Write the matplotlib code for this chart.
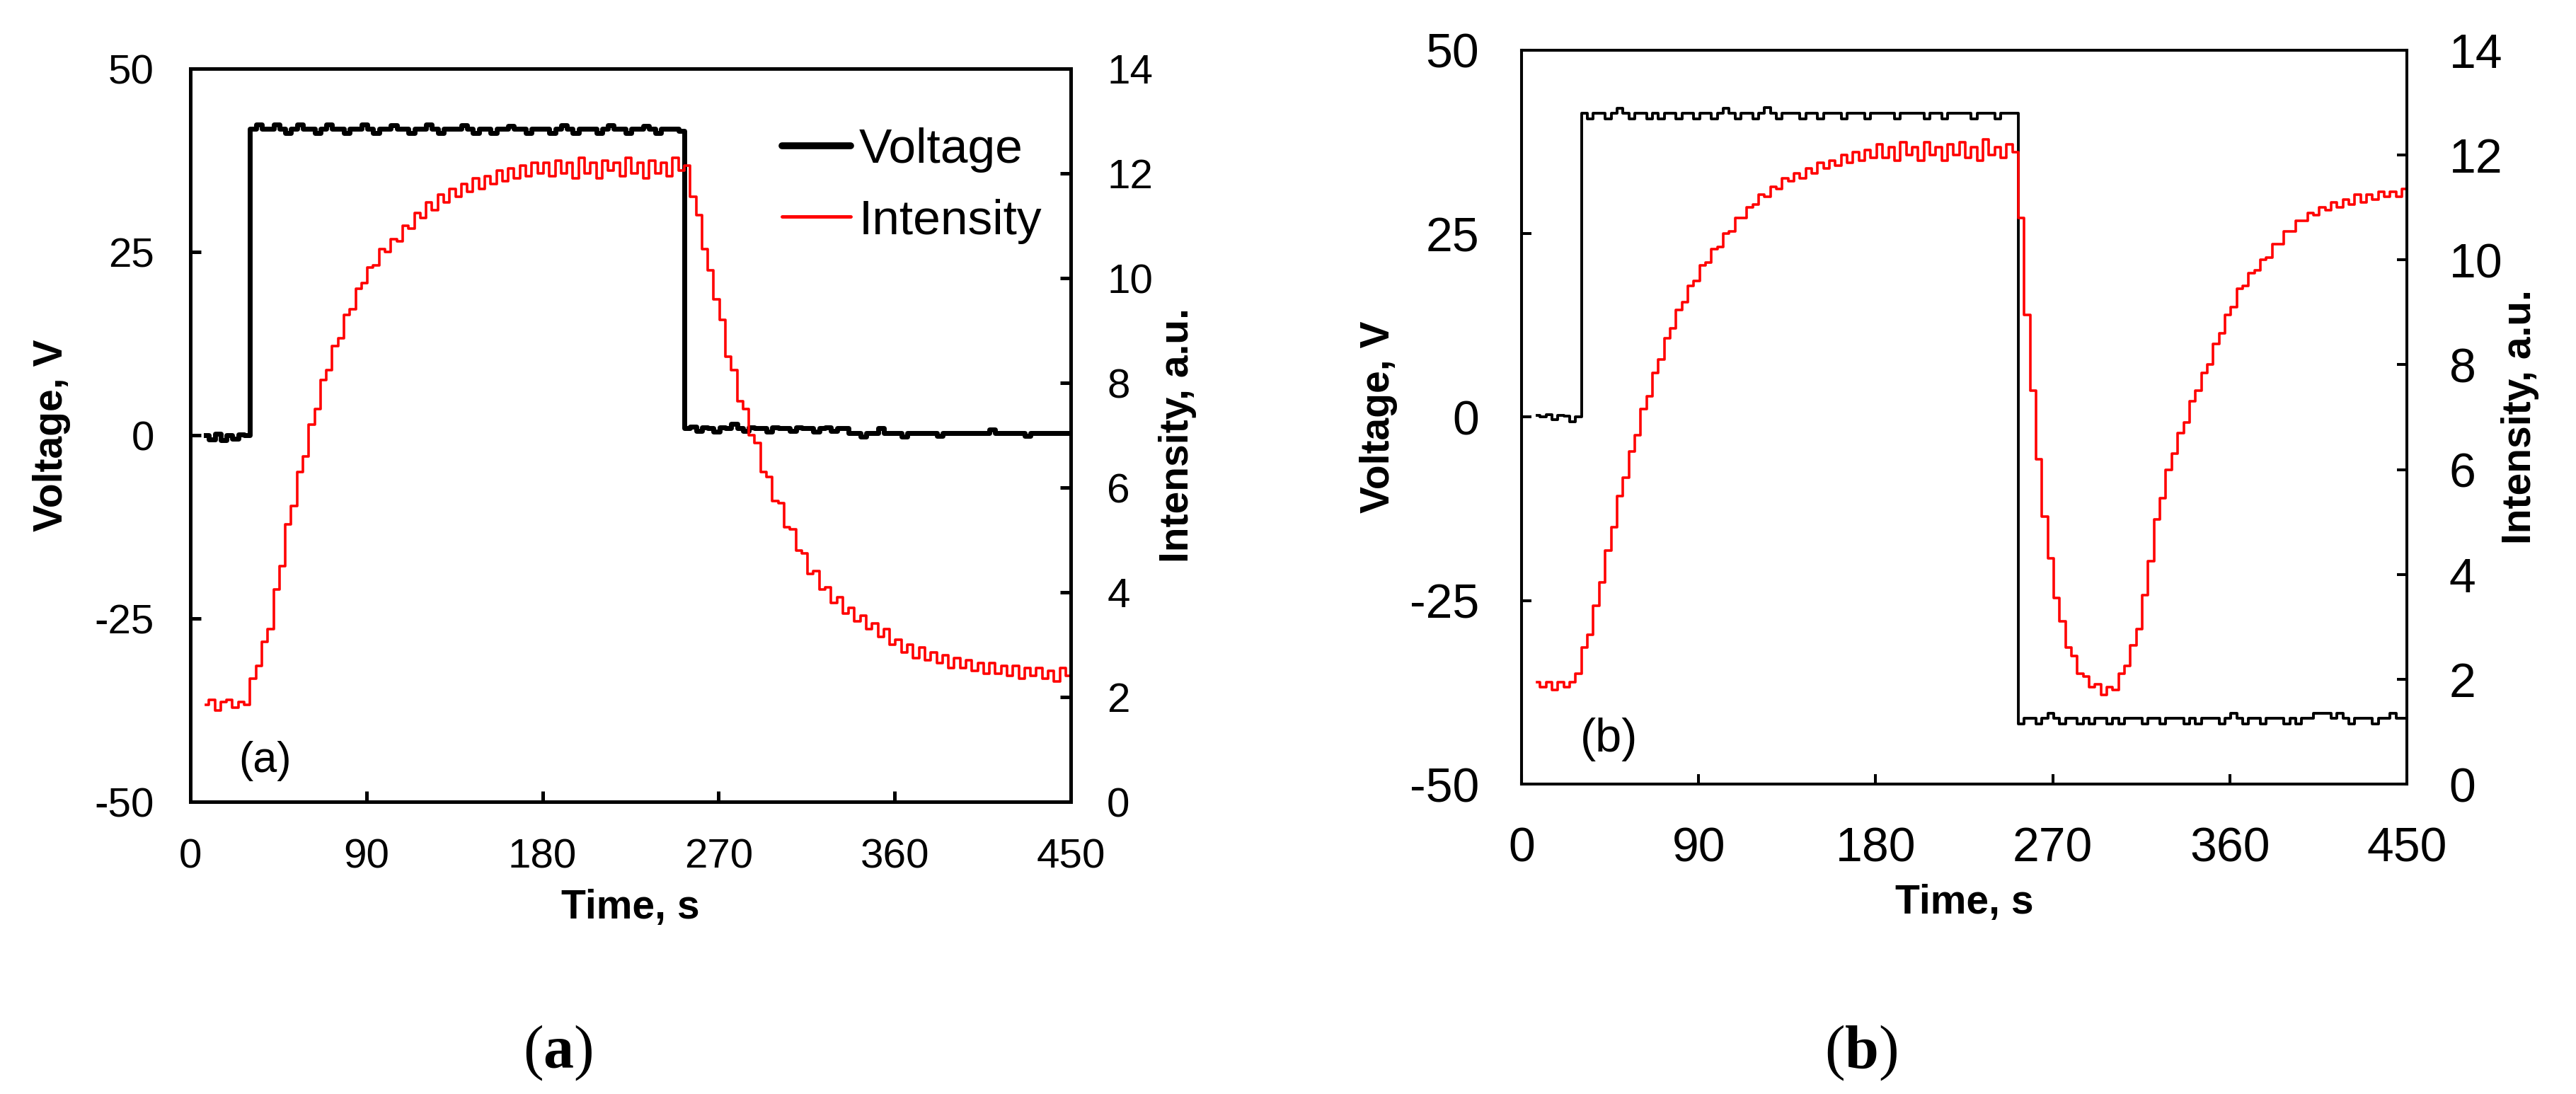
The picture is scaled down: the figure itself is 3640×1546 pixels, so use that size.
import numpy as np
import matplotlib.pyplot as plt
from matplotlib.lines import Line2D

plt.rcParams['font.family'] = ['Liberation Sans', 'DejaVu Sans']
plt.rcParams['axes.unicode_minus'] = False
plt.rcParams['mathtext.fontset'] = 'custom'
plt.rcParams['mathtext.rm'] = 'Liberation Serif'
plt.rcParams['mathtext.bf'] = 'Liberation Serif:bold'

# traces, one value every 3 s starting at t = 8 s
t_start = 8
t_step = 3

volt_a = [0.0, -0.6, 0.2, -0.7, 0.0, -0.5, 0.1, 0.0,
          41.8, 42.4, 41.8, 41.8, 42.4, 41.8, 41.2, 41.8, 42.4, 41.8,
          41.8, 41.2, 41.8, 42.4, 41.8, 41.8, 41.2, 41.8, 41.8, 42.4,
          41.8, 41.2, 41.8, 41.8, 42.3, 41.8, 41.8, 41.2, 41.8, 41.8,
          42.4, 41.8, 41.2, 41.8, 41.8, 41.8, 42.3, 41.8, 41.2, 41.8,
          41.8, 41.2, 41.8, 41.8, 42.2, 41.8, 41.8, 41.2, 41.8, 41.8,
          41.8, 41.2, 41.8, 42.3, 41.8, 41.2, 41.8, 41.8, 41.8, 41.2,
          41.8, 42.3, 41.8, 41.8, 41.2, 41.8, 41.8, 42.2, 41.8, 41.2,
          41.8, 41.8, 41.8, 41.5,
          1.0, 1.2, 0.6, 1.1, 1.0, 0.5, 1.1, 1.0, 1.6, 1.0,
          0.6, 1.1, 1.0, 1.0, 0.5, 1.1, 1.0, 1.0, 0.6, 1.1,
          1.0, 1.0, 0.5, 1.0, 1.1, 0.6, 1.0, 1.0,
          0.3, 0.3, -0.2, 0.3, 0.3, 1.0, 0.3, 0.3, 0.3, -0.2,
          0.3, 0.3, 0.3, 0.3, 0.3, -0.1, 0.3, 0.3, 0.3, 0.3,
          0.3, 0.3, 0.3, 0.3, 0.8, 0.3, 0.3, 0.3, 0.3, 0.3,
          -0.1, 0.3, 0.3, 0.3, 0.3, 0.3, 0.3, 0.3]

inten_a = [1.85, 1.95, 1.75, 1.9, 1.95, 1.8, 1.9, 1.85, 2.35, 2.6,
           3.05, 3.3, 4.05, 4.5, 5.3, 5.65, 6.3, 6.6, 7.2, 7.5,
           8.05, 8.25, 8.7, 8.85, 9.3, 9.4, 9.8, 9.9, 10.2, 10.25,
           10.55, 10.5, 10.75, 10.7, 11.0, 10.95, 11.25, 11.15, 11.45, 11.3,
           11.6, 11.45, 11.7, 11.55, 11.8, 11.65, 11.9, 11.7, 11.95, 11.8,
           12.05, 11.85, 12.1, 11.9, 12.15, 11.95, 12.2, 12.0, 12.2, 11.95,
           12.25, 12.0, 12.2, 11.9, 12.3, 12.0, 12.2, 11.9, 12.25, 12.05,
           12.2, 11.95, 12.3, 12.0, 12.2, 11.9, 12.25, 12.0, 12.2, 11.95,
           12.3, 12.05, 12.15, 11.55, 11.2, 10.55, 10.15, 9.6, 9.2, 8.5,
           8.25, 7.65, 7.5, 7.0, 6.85, 6.3, 6.2, 5.75, 5.7, 5.25,
           5.2, 4.8, 4.75, 4.35, 4.4, 4.05, 4.1, 3.8, 3.9, 3.6,
           3.7, 3.45, 3.55, 3.3, 3.4, 3.15, 3.3, 3.0, 3.1, 2.85,
           3.0, 2.75, 2.95, 2.7, 2.85, 2.65, 2.8, 2.55, 2.75, 2.55,
           2.7, 2.5, 2.65, 2.45, 2.65, 2.45, 2.6, 2.4, 2.6, 2.35,
           2.55, 2.4, 2.55, 2.35, 2.5, 2.3, 2.55, 2.4]

volt_b = [0.2, 0.0, 0.3, -0.3, 0.2, 0.1, -0.6, 0.0,
          41.4, 40.6, 41.4, 41.4, 40.6, 41.4, 42.1, 41.4, 40.6, 41.4,
          41.4, 40.6, 41.4, 40.6, 41.4, 41.4, 40.6, 41.4, 41.4, 40.6,
          41.4, 41.4, 40.6, 41.4, 42.1, 41.4, 40.6, 41.4, 41.4, 40.6,
          41.4, 42.2, 41.4, 40.6, 41.4, 41.4, 41.4, 40.6, 41.4, 41.4,
          40.6, 41.4, 41.4, 41.4, 40.6, 41.4, 41.4, 41.4, 40.6, 41.4,
          41.4, 41.4, 41.4, 40.6, 41.4, 41.4, 41.4, 41.4, 40.6, 41.4,
          41.4, 40.6, 41.4, 41.4, 41.4, 41.4, 40.6, 41.4, 41.4, 41.4,
          40.6, 41.4, 41.4, 41.4,
          -41.8, -41.0, -41.0, -41.8, -41.0, -40.4, -41.0, -41.8, -41.0, -41.0,
          -41.8, -41.0, -41.8, -41.0, -41.0, -41.8, -41.0, -41.8, -41.0, -41.0,
          -41.0, -41.8, -41.0, -41.0, -41.8, -41.0, -41.0, -41.0, -41.8, -41.0,
          -41.8, -41.0, -41.0, -41.0, -41.8, -41.0, -40.4, -41.0, -41.8, -41.0,
          -41.0, -41.8, -41.0, -41.0, -41.0, -41.8, -41.0, -41.8, -41.0, -41.0,
          -40.4, -40.4, -40.4, -41.0, -40.4, -41.0, -41.8, -41.0, -41.0, -41.0,
          -41.8, -41.0, -41.0, -40.4, -41.0, -41.0]

inten_b = [1.95, 1.85, 1.95, 1.8, 1.95, 1.85, 1.95, 2.1, 2.6, 2.85,
           3.4, 3.85, 4.45, 4.9, 5.5, 5.85, 6.35, 6.65, 7.15, 7.4,
           7.85, 8.1, 8.5, 8.7, 9.05, 9.2, 9.5, 9.6, 9.9, 9.95,
           10.2, 10.25, 10.5, 10.55, 10.8, 10.8, 11.0, 11.05, 11.25, 11.2,
           11.4, 11.35, 11.55, 11.5, 11.65, 11.55, 11.75, 11.65, 11.85, 11.75,
           11.9, 11.8, 12.0, 11.85, 12.05, 11.9, 12.1, 11.95, 12.2, 11.95,
           12.15, 11.9, 12.25, 12.0, 12.15, 11.9, 12.25, 12.0, 12.15, 11.9,
           12.2, 12.0, 12.25, 11.95, 12.15, 11.9, 12.3, 12.0, 12.15, 11.95,
           12.2, 12.05, 10.8, 8.95, 7.5, 6.2, 5.1, 4.3, 3.55, 3.1,
           2.6, 2.45, 2.1, 2.05, 1.85, 1.9, 1.7, 1.85, 1.8, 2.1,
           2.25, 2.65, 2.95, 3.6, 4.25, 5.05, 5.45, 6.0, 6.3, 6.7,
           6.9, 7.3, 7.5, 7.85, 8.0, 8.4, 8.6, 8.95, 9.1, 9.45,
           9.5, 9.75, 9.8, 10.0, 10.05, 10.3, 10.3, 10.55, 10.55, 10.75,
           10.75, 10.9, 10.85, 11.0, 10.95, 11.1, 11.0, 11.15, 11.05, 11.25,
           11.1, 11.25, 11.15, 11.3, 11.2, 11.3, 11.2, 11.35]

time_ticks = [0, 90, 180, 270, 360, 450]
volt_ticks = [-50, -25, 0, 25, 50]
inten_ticks = [0, 2, 4, 6, 8, 10, 12, 14]

panels = [
    dict(volt=volt_a, inten=inten_a, tag='(a)', cap='a',
         rect=[0.0739, 0.2671, 0.3416, 0.6701], cap_x=0.2164,
         tick_fs=42, label_fs=41, spine_w=3.6, volt_lw=5.0, tick_len=11, pad=37,
         ylab_l=-0.136, ylab_r=1.0996, xlab_y=-0.119, tag_xy=(0.055, 0.056), tag_fs=44),
    dict(volt=volt_b, inten=inten_b, tag='(b)', cap='b',
         rect=[0.5905, 0.2833, 0.3436, 0.6708], cap_x=0.7223,
         tick_fs=49, label_fs=41, spine_w=2.9, volt_lw=2.8, tick_len=10, pad=43,
         ylab_l=-0.140, ylab_r=1.106, xlab_y=-0.136, tag_xy=(0.066, 0.061), tag_fs=48),
]

fig = plt.figure(figsize=(36.41, 15.46), dpi=100)

for p in panels:
    t = t_start + t_step * np.arange(len(p['volt']))
    ax = fig.add_axes(p['rect'])
    ax.plot(t, p['volt'], color='black', lw=p['volt_lw'], drawstyle='steps-mid')
    ax.set_xlim(0, 450)
    ax.set_ylim(-50, 50)
    ax.set_xticks(time_ticks)
    ax.set_yticks(volt_ticks)

    ax2 = ax.twinx()
    ax2.plot(t, p['inten'], color='#ff0000', lw=2.6, drawstyle='steps-mid')
    ax2.set_ylim(0, 14)
    ax2.set_yticks(inten_ticks)

    for a in (ax, ax2):
        for s in a.spines.values():
            s.set_linewidth(p['spine_w'])
        a.tick_params(direction='in', length=p['tick_len'], width=p['spine_w'],
                      labelsize=p['tick_fs'], pad=p['pad'])
    ax.tick_params(top=False, right=False)

    ax.set_xlabel('Time, s', fontsize=p['label_fs'], fontweight='bold')
    ax.set_ylabel('Voltage, V', fontsize=p['label_fs'], fontweight='bold')
    ax2.set_ylabel('Intensity, a.u.', fontsize=p['label_fs'], fontweight='bold')
    ax.xaxis.set_label_coords(0.5, p['xlab_y'])
    ax.yaxis.set_label_coords(p['ylab_l'], 0.5)
    ax2.yaxis.set_label_coords(p['ylab_r'], 0.5)

    ax2.text(p['tag_xy'][0], p['tag_xy'][1], p['tag'], transform=ax.transAxes,
             fontsize=p['tag_fs'], ha='left', va='center')

    fig.text(p['cap_x'], 0.0375, r'$\mathrm{(}\mathbf{%s}\mathrm{)}$' % p['cap'],
             fontsize=62, ha='center', va='center')

    if p['tag'] == '(a)':
        handles = [Line2D([], [], color='black', lw=7, solid_capstyle='round'),
                   Line2D([], [], color='#ff0000', lw=3.5, solid_capstyle='round')]
        ax2.legend(handles, ['Voltage', 'Intensity'], loc='upper left',
                   bbox_to_anchor=(0.672, 0.92), frameon=False, fontsize=50,
                   handlelength=1.4, handletextpad=0.16, labelspacing=0.53,
                   borderpad=0, borderaxespad=0)

fig.savefig('out.png', dpi=100)
